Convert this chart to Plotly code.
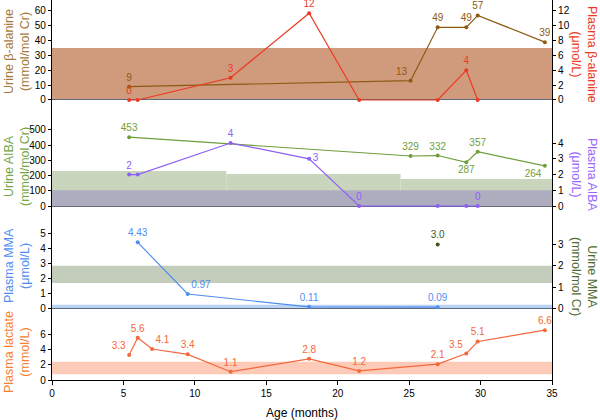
import plotly.graph_objects as go

# ---------------- data ----------------
ub_age = [5.4, 25.1, 27.0, 29.0, 29.8, 34.5]          # Urine beta-alanine
ub_val = [9, 13, 49, 49, 57, 39]
pb_age = [5.4, 6.0, 12.5, 18.0, 21.5, 27.0, 29.0, 29.8]  # Plasma beta-alanine
pb_val = [0, 0, 3, 11.7, 0, 0, 4, 0]
pb_lbl = ["0", "", "3", "12", "", "", "4", ""]

ua_age = [5.4, 25.1, 27.0, 29.0, 29.8, 34.5]          # Urine AIBA
ua_val = [453, 329, 332, 287, 357, 264]
pa_age = [5.4, 6.0, 12.5, 18.0, 21.5, 27.0, 29.0, 29.8]  # Plasma AIBA
pa_val = [2, 2, 4, 3, 0, 0, 0, 0]
pa_lbl = ["2", "", "4", "3", "0", "", "", "0"]

pm_age = [6.0, 9.5, 18.0, 27.0]                        # Plasma MMA
pm_val = [4.43, 0.97, 0.11, 0.09]
um_age = [27.0]                                        # Urine MMA
um_val = [3.0]

pl_age = [5.4, 6.0, 7.0, 9.5, 12.5, 18.0, 21.5, 27.0, 29.0, 29.8, 34.5]  # Plasma lactate
pl_val = [3.3, 5.6, 4.1, 3.4, 1.1, 2.8, 1.2, 2.1, 3.5, 5.1, 6.6]

# reference ranges
ref_ub = [0, 35]
ref_ua_age = [0, 12.2, 24.4, 35]
ref_ua_upper = [230, 210, 178]
ref_pa = [0, 1]
ref_um = [1.2, 2.0]
ref_pm = [0, 0.26]
ref_pl = [0.75, 2.4]

# ticks
x_ticks = [0, 5, 10, 15, 20, 25, 30, 35]
ub_ticks = [0, 10, 20, 30, 40, 50, 60]
pb_ticks = [0, 2, 4, 6, 8, 10, 12]
ua_ticks = [0, 100, 200, 300, 400, 500]
pa_ticks = [0, 1, 2, 3, 4]
pm_ticks = [0, 1, 2, 3, 4, 5]
um_ticks = [0, 1, 2, 3]
pl_ticks = [0, 2, 4, 6]

# ---------------- style ----------------
C_UB, C_UB_T = "#8c5a12", "#a5793a"
C_PB = "#ec3a22"
C_UA, C_UA_T = "#6f9e3c", "#74a646"
C_PA, C_PA_T = "#8e5ff5", "#9966ff"
C_PM = "#4f8ef0"
C_UM, C_UM_T = "#3f5a22", "#4d6b30"
C_PL, C_PL_T = "#f4683c", "#f7802f"
FONT = "Liberation Sans, Arial, sans-serif"

H = 380.0
def dom(top_px, bot_px):
    return [(H - bot_px) / H, (H - top_px) / H]

D1, D2, D3, D4 = dom(0, 104), dom(104, 212), dom(212, 313), dom(313, 380)

fig = go.Figure()

def series(x, y, color, yaxis, text, pos):
    fig.add_trace(go.Scatter(
        x=x, y=y, mode="lines+markers+text", yaxis=yaxis,
        line=dict(color=color, width=1.2), marker=dict(color=color, size=4),
        text=text, textposition=pos, textfont=dict(color=color, size=10, family=FONT),
        cliponaxis=False, showlegend=False, hoverinfo="skip"))

series(ub_age, ub_val, C_UB, "y6", [str(v) for v in ub_val],
       ["top center", "top left", "top center", "top center", "top center", "top center"])
series(pb_age, pb_val, C_PB, "y7", pb_lbl, "top center")
series(ua_age, ua_val, C_UA, "y4", [str(v) for v in ua_val],
       ["top center", "top center", "top center", "bottom center", "top center", "bottom left"])
series(pa_age, pa_val, C_PA, "y5", pa_lbl,
       ["top center", "top center", "top center", "middle right", "top center", "top center", "top center", "top center"])
series(pm_age, pm_val, C_PM, "y2", [f"{v:.2f}" for v in pm_val],
       ["top center", "top right", "top center", "top center"])
series(um_age, um_val, C_UM, "y3", [f"{v:.1f}" for v in um_val], "top center")
series(pl_age, pl_val, C_PL, "y", [str(v) for v in pl_val],
       ["top left", "top center", "top right", "top center", "top center", "top center",
        "top center", "top center", "top left", "top center", "top center"])

# reference bands
shapes = []
def band(x0, x1, y0, y1, yref, color):
    shapes.append(dict(type="rect", xref="x", yref=yref, x0=x0, x1=x1, y0=y0, y1=y1,
                       fillcolor=color, line=dict(width=0), layer="below"))

band(0, 35, ref_ub[0], ref_ub[1], "y6", "#d09a7c")
for i in range(3):
    band(ref_ua_age[i], ref_ua_age[i + 1], 0, ref_ua_upper[i], "y4", "#c9d5bc")
band(0, 35, ref_pa[0], ref_pa[1], "y5", "#adadbf")
band(0, 35, ref_um[0], ref_um[1], "y3", "#c4ccbb")
band(0, 35, ref_pm[0], ref_pm[1], "y2", "#b9d3f5")
band(0, 35, ref_pl[0], ref_pl[1], "y", "#fccab6")

tickfont = dict(size=10, color="black", family=FONT)
def yax(domain, rng, ticks, side="left", overlaying=None, zeroline=False, mirror=False):
    d = dict(range=rng, tickvals=ticks, ticks="outside", ticklen=3, tickwidth=1,
             tickcolor="black", showline=True, linecolor="black", linewidth=1.2,
             showgrid=False, zeroline=zeroline, zerolinecolor="#5f6b78", zerolinewidth=1,
             tickfont=tickfont, side=side, anchor="x", fixedrange=True, mirror=mirror,
             automargin=False)
    if overlaying:
        d["overlaying"] = overlaying
    else:
        d["domain"] = domain
    return d

def yin(rng, ticks, side, overlaying):
    return dict(range=rng, tickvals=ticks, ticks="inside", ticklen=3, tickwidth=1,
                tickcolor="black", showline=False, showgrid=False, zeroline=False,
                showticklabels=False, side=side, anchor="x", overlaying=overlaying,
                automargin=False)

R_PL = [0, 8.87]
R_PM = [-0.30, 6.46]
R_UM = [-0.21, 4.52]
R_UA = [-39.5, 671]
R_PA = [-0.38, 6.48]
R_UB = [-2.7, 67.4]
R_PB = [-0.54, 13.48]

layout_axes = dict(
    yaxis=yax(D4, R_PL, pl_ticks, mirror=True),
    yaxis2=yax(D3, R_PM, pm_ticks, zeroline=True),
    yaxis3=yax(None, R_UM, um_ticks, side="right", overlaying="y2"),
    yaxis4=yax(D2, R_UA, ua_ticks, zeroline=True),
    yaxis5=yax(None, R_PA, pa_ticks, side="right", overlaying="y4"),
    yaxis6=yax(D1, R_UB, ub_ticks, zeroline=True),
    yaxis7=yax(None, R_PB, pb_ticks, side="right", overlaying="y6"),
    yaxis8=yin(R_PL, pl_ticks, "left", "y"),
    yaxis9=yin(R_PM, pm_ticks, "left", "y2"),
    yaxis10=yin(R_UM, um_ticks, "right", "y2"),
    yaxis11=yin(R_UA, ua_ticks, "left", "y4"),
    yaxis12=yin(R_PA, pa_ticks, "right", "y4"),
    yaxis13=yin(R_UB, ub_ticks, "left", "y6"),
    yaxis14=yin(R_PB, pb_ticks, "right", "y6"),
)

def title(text, x, y, color, angle):
    return dict(text=text, x=x, y=y, xref="paper", yref="paper", showarrow=False,
                textangle=angle, xanchor="center", yanchor="middle",
                font=dict(size=12.5, color=color, family=FONT))

W = 500.0
def px_x(p):
    return (p - 52) / W
def px_y(p):
    return (H - p) / H

annotations = [
    title("Urine β-alanine<br>(mmol/mol Cr)", px_x(17), px_y(52), C_UB_T, -90),
    title("Plasma β-alanine<br>(μmol/L)", px_x(584), px_y(54), C_PB, 90),
    title("Urine AIBA<br>(mmol/mol Cr)", px_x(17), px_y(167), C_UA_T, -90),
    title("Plasma AIBA<br>(μmol/L)", px_x(584), px_y(175), C_PA_T, 90),
    title("Plasma MMA<br>(μmol/L)", px_x(17), px_y(266), C_PM, -90),
    title("Urine MMA<br>(mmol/mol Cr)", px_x(584), px_y(276), C_UM_T, 90),
    title("Plasma lactate<br>(mmol/L)", px_x(17), px_y(352), C_PL_T, -90),
    dict(text="Age (months)", x=px_x(302), y=px_y(413), xref="paper", yref="paper",
         showarrow=False, xanchor="center", yanchor="middle",
         font=dict(size=12, color="black", family=FONT)),
]

fig.update_layout(
    width=600, height=420,
    margin=dict(l=52, r=48, t=0, b=40, autoexpand=False),
    paper_bgcolor="white", plot_bgcolor="white",
    showlegend=False,
    font=dict(family=FONT),
    xaxis=dict(range=[0, 35], tickvals=x_ticks, ticks="outside", ticklen=4, tickwidth=1,
               tickcolor="black", showline=True, linecolor="black", linewidth=1.2,
               showgrid=False, zeroline=False, anchor="y", tickfont=tickfont, fixedrange=True,
               automargin=False),
    xaxis2=dict(range=[0, 35], tickvals=x_ticks, ticks="inside", ticklen=3, tickwidth=1,
                tickcolor="black", showline=False, showgrid=False, zeroline=False,
                showticklabels=False, anchor="y", overlaying="x", automargin=False),
    shapes=shapes,
    annotations=annotations,
    **layout_axes,
)

fig.write_html("out.html", config={"displayModeBar": False},
               post_script="document.body.style.margin='0';document.body.style.overflow='hidden';")
